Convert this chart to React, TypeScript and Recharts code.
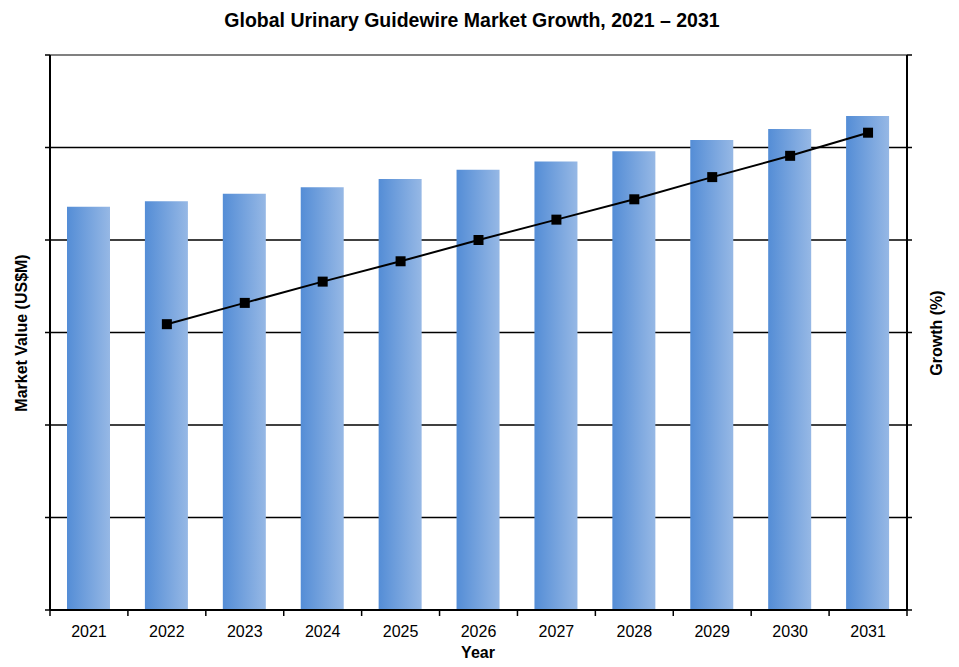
import React from "react";
import {
  ComposedChart,
  Bar,
  Line,
  XAxis,
  YAxis,
  CartesianGrid,
  ReferenceLine,
} from "recharts";

// chart values
const years = ["2021", "2022", "2023", "2024", "2025", "2026", "2027", "2028", "2029", "2030", "2031"];
const marketValue = [4.36, 4.42, 4.5, 4.57, 4.66, 4.76, 4.85, 4.96, 5.08, 5.2, 5.34];
const growth: (number | null)[] = [null, 3.09, 3.32, 3.55, 3.77, 4.0, 4.22, 4.44, 4.68, 4.91, 5.16];
const axisTicks = [0, 1, 2, 3, 4, 5, 6];

const W = 959;
const H = 667;
const AXIS_W = 6;
const X_AXIS_H = 30;
const MARGIN = { top: 55, right: 52 - AXIS_W, bottom: 57 - X_AXIS_H, left: 50 - AXIS_W };
const FONT = "'Liberation Sans', Arial, sans-serif";

// band width used to put the x tick marks between categories
const BAND = (W - 50 - 52) / years.length;

const data = years.map((year, i) => ({
  year,
  value: marketValue[i],
  growth: growth[i],
}));

function YearTick(props: any) {
  const { x, payload, index } = props;
  const axisY = H - 57;
  return (
    <g>
      <line x1={x - BAND / 2} x2={x - BAND / 2} y1={axisY} y2={axisY + 6} stroke="#000" strokeWidth={1.5} />
      {index === years.length - 1 && (
        <line x1={x + BAND / 2} x2={x + BAND / 2} y1={axisY} y2={axisY + 6} stroke="#000" strokeWidth={1.5} />
      )}
      <text x={x} y={axisY + 27} textAnchor="middle" fontSize={16} fontFamily={FONT} fill="#000">
        {payload.value}
      </text>
    </g>
  );
}

function SquareDot(props: any) {
  const { cx, cy, value } = props;
  if (value == null || cx == null || cy == null) return <g />;
  return <rect x={cx - 5} y={cy - 5} width={10} height={10} fill="#000" />;
}

const sideLabel: React.CSSProperties = {
  position: "absolute",
  top: 333,
  transform: "translate(-50%, -50%) rotate(-90deg)",
  whiteSpace: "nowrap",
  fontSize: 16,
  fontWeight: "bold",
};

export default function App() {
  return (
    <div style={{ position: "absolute", left: 0, top: 0, width: W, height: H, background: "#fff", fontFamily: FONT }}>
      <div
        style={{
          position: "absolute",
          top: 9,
          left: 0,
          width: 944,
          textAlign: "center",
          fontSize: 19.5,
          fontWeight: "bold",
        }}
      >
        Global Urinary Guidewire Market Growth, 2021 – 2031
      </div>

      <ComposedChart width={W} height={H} data={data} margin={MARGIN}>
        <defs>
          <linearGradient id="barFill" x1="0" y1="0" x2="1" y2="0">
            <stop offset="0%" stopColor="#548dd6" />
            <stop offset="100%" stopColor="#96b8e5" />
          </linearGradient>
        </defs>
        <CartesianGrid vertical={false} stroke="#000" strokeWidth={1.5} yAxisId="left" />
        <XAxis
          dataKey="year"
          height={X_AXIS_H}
          axisLine={{ stroke: "#000", strokeWidth: 2 }}
          tickLine={false}
          tick={<YearTick />}
          interval={0}
        />
        <YAxis
          yAxisId="left"
          domain={[0, 6]}
          ticks={axisTicks}
          axisLine={{ stroke: "#000", strokeWidth: 2 }}
          tickLine={{ stroke: "#000", strokeWidth: 1.5 }}
          tickSize={5}
          tick={() => <g />}
          width={AXIS_W}
        />
        <YAxis
          yAxisId="right"
          orientation="right"
          domain={[0, 6]}
          ticks={axisTicks}
          axisLine={{ stroke: "#000", strokeWidth: 2 }}
          tickLine={{ stroke: "#000", strokeWidth: 1.5 }}
          tickSize={5}
          tick={() => <g />}
          width={AXIS_W}
        />
        <ReferenceLine yAxisId="left" y={6} stroke="#808080" strokeWidth={2} />
        <Bar yAxisId="left" dataKey="value" fill="url(#barFill)" barSize={43} isAnimationActive={false} />
        <Line
          yAxisId="right"
          dataKey="growth"
          stroke="#000"
          strokeWidth={2}
          dot={<SquareDot />}
          activeDot={false}
          connectNulls={false}
          isAnimationActive={false}
        />
      </ComposedChart>

      <div style={{ ...sideLabel, left: 22 }}>Market Value (US$M)</div>
      <div style={{ ...sideLabel, left: 937 }}>Growth (%)</div>
      <div
        style={{
          position: "absolute",
          left: 478,
          top: 653,
          transform: "translate(-50%, -50%)",
          fontSize: 16,
          fontWeight: "bold",
        }}
      >
        Year
      </div>
    </div>
  );
}
